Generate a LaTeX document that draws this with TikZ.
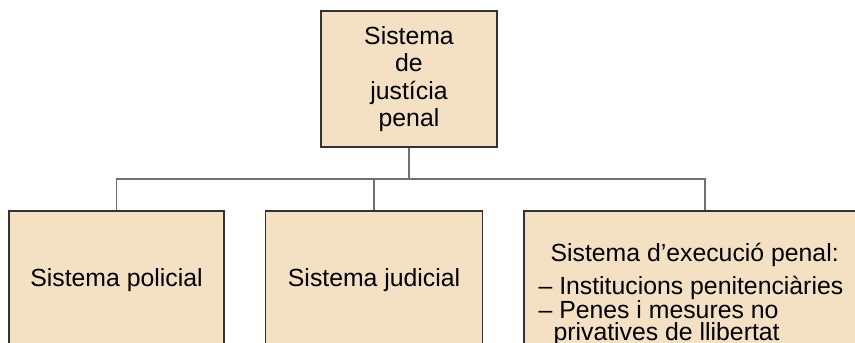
\documentclass[tikz,border=0pt]{standalone}
\usepackage{fontspec}
\setmainfont{Liberation Sans}
\usepackage{xcolor}
\usetikzlibrary{positioning,calc}
\definecolor{boxfill}{HTML}{F4E0C2}
\definecolor{boxline}{HTML}{333333}
\definecolor{linkgray}{HTML}{707070}

\begin{document}
\begin{tikzpicture}[x=1pt,y=-1pt,
        box/.style={draw=boxline, fill=boxfill, line width=1.6pt, inner sep=0pt, align=center,
            font=\fontsize{24.8}{27.3}\selectfont},
        link/.style={draw=linkgray, line width=1.5pt}]
        \useasboundingbox (0,0) rectangle (855,343);
        \clip (0,0) rectangle (855,343);
        \node[box, minimum width=176pt, minimum height=136pt] (justicia) at (409,79) {Sistema\\de\\justícia\\penal};
        \node[box, minimum width=215pt, minimum height=139pt] (policial) at (116.5,280.5) {Sistema policial};
        \node[box, minimum width=217pt, minimum height=139pt, right=40pt of policial] (judicial) {Sistema judicial};
        \node[box, minimum width=362pt, minimum height=139pt, right=40pt of judicial] (execucio) {};
        \node[anchor=north west, inner sep=0pt, align=left, font=\fontsize{24.8}{22}\selectfont]
            (execucio-text) at ([xshift=15pt, yshift=-33pt]execucio.north west)
            {\hspace*{12pt}Sistema d’execució penal:\\[8pt]– Institucions penitenciàries\\– Penes i mesures no\\\hspace*{15pt}privatives de llibertat};
        \coordinate[below=31pt of justicia.south] (split);

        \draw[link] (justicia) -- (split);
        \draw[link] (split) -| (policial);
        \draw[link] (split) -| (judicial);
        \draw[link] (split) -| (execucio);
\end{tikzpicture}
\end{document}
